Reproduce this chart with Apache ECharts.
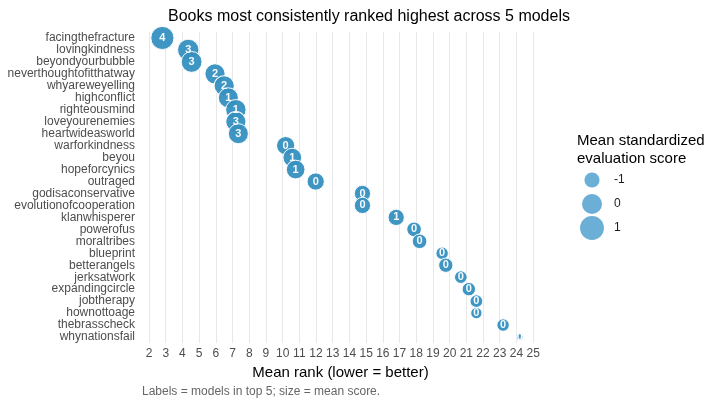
<!DOCTYPE html>
<html>
<head>
<meta charset="utf-8">
<script src="https://cdn.jsdelivr.net/npm/echarts@6/dist/echarts.min.js"></script>
<style>html,body{margin:0;padding:0;background:#fff}#c{width:720px;height:405px}</style>
</head>
<body>
<div id="c"></div>
<script>
const books = ["facingthefracture","lovingkindness","beyondyourbubble","neverthoughtofitthatway","whyareweyelling","highconflict","righteousmind","loveyourenemies","heartwideasworld","warforkindness","beyou","hopeforcynics","outraged","godisaconservative","evolutionofcooperation","klanwhisperer","powerofus","moraltribes","blueprint","betterangels","jerksatwork","expandingcircle","jobtherapy","hownottoage","thebrasscheck","whynationsfail"];
const meanRank = [2.8,4.35,4.55,5.95,6.5,6.75,7.2,7.2,7.35,10.18,10.58,10.78,11.98,14.78,14.78,16.8,17.87,18.2,19.55,19.77,20.67,21.15,21.6,21.6,23.2,24.2];
const top5Count = [4,3,3,2,2,1,1,3,3,0,1,1,0,0,0,1,0,0,0,0,0,0,0,0,0,0];
const meanScore = [0.8,0.35,0.2,0.05,0.05,0.0,0.1,0.05,0.0,-0.4,-0.3,-0.3,-0.6,-0.8,-0.8,-0.8,-1.1,-1.1,-1.45,-1.15,-1.4,-1.3,-1.4,-1.6,-1.45,-2.1];
const xTicks = [2,3,4,5,6,7,8,9,10,11,12,13,14,15,16,17,18,19,20,21,22,23,24,25];
const legendScores = [-1,0,1];

const FONT = '"Liberation Sans", Arial, sans-serif';
function sizeFor(v){ return Math.sqrt(Math.max(20, 400 + 170*v)); }

const chart = echarts.init(document.getElementById('c'), null, {renderer:'canvas'});
const pts = books.map((b,i)=>[meanRank[i], b, meanScore[i], top5Count[i]]);
const legPts = legendScores.map(s=>[0, String(s), s]);

chart.setOption({
  backgroundColor:'#fff',
  animation:false,
  textStyle:{fontFamily:FONT},
  title:[
    {text:'Books most consistently ranked highest across 5 models', left:163, top:4,
     textStyle:{fontFamily:FONT, fontSize:16, fontWeight:'normal', color:'#000'}},
    {text:'Mean standardized\nevaluation score', left:572, top:127,
     textStyle:{fontFamily:FONT, fontSize:15, fontWeight:'normal', color:'#000', lineHeight:18}},
    {text:'Labels = models in top 5; size = mean score.', left:137, top:381,
     textStyle:{fontFamily:FONT, fontSize:12, fontWeight:'normal', color:'#666'}}
  ],
  grid:[
    {left:140, right:179, top:32, bottom:62, containLabel:false},
    {left:580, width:24, top:168, height:72, containLabel:false}
  ],
  xAxis:[
    {type:'value', gridIndex:0, min:1.46, max:25.47,
     axisLine:{show:false}, axisTick:{show:false, customValues:xTicks},
     axisLabel:{customValues:xTicks, color:'#4d4d4d', fontSize:12, fontFamily:FONT, margin:5},
     splitLine:{show:true, lineStyle:{color:'#e8e8e8', width:1}},
     name:'Mean rank (lower = better)', nameLocation:'middle', nameGap:21,
     nameTextStyle:{color:'#000', fontSize:15, fontFamily:FONT}},
    {type:'value', gridIndex:1, min:-1, max:1, show:false}
  ],
  yAxis:[
    {type:'category', gridIndex:0, data:books, inverse:true,
     axisLine:{show:false}, axisTick:{show:false}, splitLine:{show:false},
     axisLabel:{color:'#4d4d4d', fontSize:12, fontFamily:FONT, margin:5, interval:0}},
    {type:'category', gridIndex:1, data:legendScores.map(String), inverse:true, position:'right',
     axisLine:{show:false}, axisTick:{show:false}, splitLine:{show:false},
     axisLabel:{color:'#1a1a1a', fontSize:12, fontFamily:FONT, margin:10}}
  ],
  series:[
    {type:'scatter', xAxisIndex:0, yAxisIndex:0, data:pts,
     symbolSize:(v)=>sizeFor(v[2]),
     itemStyle:{color:'#3690c0', opacity:0.95, borderColor:'#fff', borderWidth:1},
     label:{show:true, position:'inside', formatter:(p)=>String(p.value[3]),
            color:'#fff', fontSize:11, fontWeight:'bold', fontFamily:FONT}},
    {type:'scatter', xAxisIndex:1, yAxisIndex:1, data:legPts,
     symbolSize:(v)=>sizeFor(v[2]),
     itemStyle:{color:'#6baed6', opacity:1}}
  ]
});
</script>
</body>
</html>
